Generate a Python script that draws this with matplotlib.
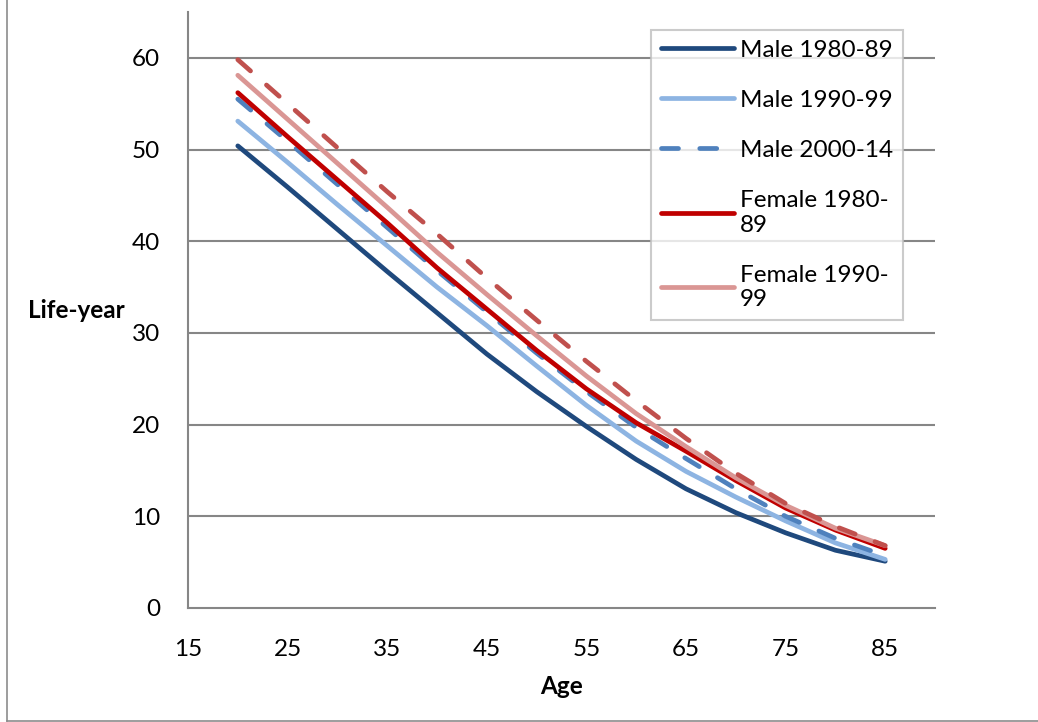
import matplotlib
matplotlib.use("Agg")
import matplotlib.pyplot as plt
from matplotlib.lines import Line2D

plt.rcParams['font.family'] = ['Lato', 'DejaVu Sans']

ages = [20, 25, 30, 35, 40, 45, 50, 55, 60, 65, 70, 75, 80, 85]

male_1980 = [50.4, 45.9, 41.3, 36.7, 32.2, 27.7, 23.6, 19.8, 16.2, 13.0, 10.4, 8.2, 6.3, 5.1]
male_1990 = [53.1, 48.6, 44.0, 39.5, 35.0, 30.8, 26.4, 22.1, 18.2, 14.9, 12.1, 9.5, 7.1, 5.3]
male_2000 = [55.5, 50.9, 46.2, 41.5, 36.8, 32.3, 27.8, 23.6, 19.7, 16.3, 13.0, 10.0, 7.6, 5.7]
female_1980 = [56.2, 51.4, 46.7, 42.0, 37.1, 32.6, 28.1, 23.9, 20.2, 17.1, 13.9, 10.9, 8.5, 6.5]
female_1990 = [58.1, 53.3, 48.5, 43.7, 38.8, 34.2, 29.7, 25.3, 21.2, 17.6, 14.2, 11.2, 8.7, 6.8]
female_2000 = [59.8, 55.0, 50.2, 45.4, 40.8, 36.0, 31.4, 26.9, 22.6, 18.5, 14.7, 11.4, 8.9, 6.8]

labels = ['Male 1980-89', 'Male 1990-99', 'Male 2000-14',
          'Female 1980-\n89', 'Female 1990-\n99', 'Female 2000-14']
x_ticks = [15, 25, 35, 45, 55, 65, 75, 85]
y_ticks = [0, 10, 20, 30, 40, 50, 60]

fig = plt.figure(figsize=(10.38, 7.22), dpi=100)
ax = fig.add_axes([188 / 1038, 1 - 608 / 722, (935 - 188) / 1038, (608 - 12) / 722])

grid_col = '#868686'
for v in y_ticks[1:]:
    ax.axhline(v, color=grid_col, lw=1.5, zorder=1)

series = [
    (male_1980, '#1F497D', '-'),
    (male_1990, '#8DB4E2', '-'),
    (male_2000, '#4F81BD', '--'),
    (female_1980, '#C00000', '-'),
    (female_1990, '#DA9694', '-'),
    (female_2000, '#C0504D', '--'),
]
lines = []
for (vals, col, ls), lab in zip(series, labels):
    kw = dict(color=col, lw=3.4, solid_capstyle='round', zorder=3)
    if ls == '--':
        kw.update(dashes=(3.6, 4.5), dash_capstyle='round')
    ln, = ax.plot(ages, vals, label=lab, **kw)
    lines.append(ln)

ax.set_xlim(15, 90)
ax.set_ylim(0, 65)
ax.set_xticks(x_ticks)
ax.set_yticks(y_ticks)
ax.tick_params(axis='both', length=0, labelsize=17.5, colors='black')
ax.tick_params(axis='y', pad=20)
ax.tick_params(axis='x', pad=22)

for s in ['top', 'right']:
    ax.spines[s].set_visible(False)
ax.spines['left'].set_color(grid_col)
ax.spines['left'].set_linewidth(1.5)
ax.spines['bottom'].set_color(grid_col)
ax.spines['bottom'].set_linewidth(1.5)

ax.set_xlabel('Age', fontsize=17.5, fontweight='bold')
ax.xaxis.set_label_coords(0.5, -0.131)
ax.xaxis.label.set_va('center')
ax.set_ylabel('Life-year', fontsize=17.5, fontweight='bold', rotation=0)
ax.yaxis.set_label_coords(-0.149, 0.5)
ax.yaxis.label.set_va('center')
ax.yaxis.label.set_ha('center')

leg = ax.legend(handles=lines[:5], loc='upper left', bbox_to_anchor=(0.62, 0.97),
                borderaxespad=0, fontsize=17.5, frameon=True, fancybox=False,
                handlelength=3.0, handletextpad=0.25, labelspacing=1.2,
                borderpad=0.4)
leg.get_frame().set_edgecolor('#BFBFBF')
leg.get_frame().set_linewidth(1.5)
leg.set_zorder(5)

# outer chart border
fig.add_artist(Line2D([6.5 / 1038, 6.5 / 1038], [0.0015, 1], transform=fig.transFigure,
                      color='#8C8C8C', lw=1.2))
fig.add_artist(Line2D([6.5 / 1038, 1], [0.0015, 0.0015], transform=fig.transFigure,
                      color='#8C8C8C', lw=1.2))

fig.savefig('out.png', dpi=100)
